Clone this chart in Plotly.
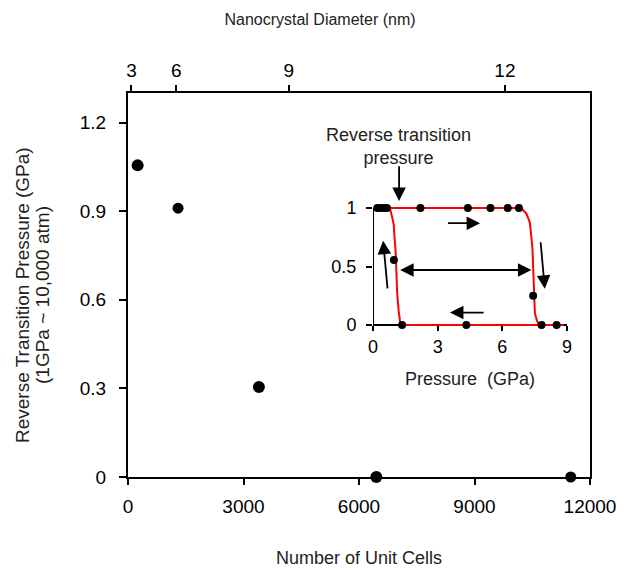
import plotly.graph_objects as go

# ---- main data ----
unit_cells = [250, 1300, 3400, 6450, 11500]
rev_pressure = [1.055, 0.91, 0.305, 0.0, 0.0]
marker_sizes = [12, 11, 12, 12, 11]

x_ticks = [0, 3000, 6000, 9000, 12000]
x_tick_text = ["0", "3000", "6000", "9000", "12000"]
y_ticks = [0, 0.3, 0.6, 0.9, 1.2]
y_tick_text = ["0", "0.3", "0.6", "0.9", "1.2"]

diam_labels = ["3", "6", "9", "12"]
diam_tick_cells = [90, 1255, 4175, 9790]

# ---- inset data ----
ins_pressure = [0.2, 0.35, 0.5, 0.65, 2.2, 4.4, 5.45, 6.25, 6.77, 0.97, 7.43, 1.35, 4.33, 7.82, 8.52]
ins_fraction = [1, 1, 1, 1, 1, 1, 1, 1, 1, 0.555, 0.25, 0, 0, 0, 0]

comp_p = [0.78, 6.88, 7.12, 7.27, 7.35, 7.40, 7.43, 7.48, 7.51, 7.61, 7.71]
comp_f = [1, 1, 0.95, 0.88, 0.75, 0.64, 0.49, 0.26, 0.10, 0.035, 0]
dec_p = [8.83, 1.27, 1.24, 1.19, 1.12, 1.09, 1.05, 1.00, 0.96, 0.88, 0.78]
dec_f = [0, 0, 0.05, 0.12, 0.28, 0.46, 0.63, 0.75, 0.86, 0.93, 1.0]

ins_x_ticks = [0, 3, 6, 9]
ins_y_ticks = [0, 0.5, 1]

FONT = "Liberation Sans, Arial, sans-serif"
OFF = 8  # page body margin
W, H = 638 - OFF, 570 - OFF
ML, MR, MT, MB = 128 - OFF, 48, 93 - OFF, 93
PLOT_L, PLOT_B = 128, 477  # page coords

fig = go.Figure()

fig.add_trace(go.Scatter(
    x=unit_cells, y=rev_pressure, mode="markers",
    marker=dict(color="black", size=marker_sizes, opacity=1,
                line=dict(width=0)),
    cliponaxis=False, showlegend=False, xaxis="x", yaxis="y"))

# invisible companion trace so the top (diameter) axis is drawn
fig.add_trace(go.Scatter(
    x=unit_cells, y=rev_pressure, mode="markers",
    marker=dict(color="rgba(0,0,0,0)", size=1),
    hoverinfo="skip", showlegend=False, xaxis="x2", yaxis="y"))

# inset red curves
fig.add_trace(go.Scatter(
    x=comp_p, y=comp_f, mode="lines", line=dict(color="#ff0000", width=2),
    showlegend=False, xaxis="x3", yaxis="y3"))
fig.add_trace(go.Scatter(
    x=dec_p, y=dec_f, mode="lines", line=dict(color="#ff0000", width=2),
    showlegend=False, xaxis="x3", yaxis="y3"))
fig.add_trace(go.Scatter(
    x=ins_pressure, y=ins_fraction, mode="markers",
    marker=dict(color="black", size=8),
    cliponaxis=False, showlegend=False, xaxis="x3", yaxis="y3"))

# inset geometry (paper fractions)
pw = W - ML - MR
ph = H - MT - MB
ix0, ix1 = (373 - PLOT_L) / pw, (567 - PLOT_L) / pw
pad = 0.04
y_px_per_unit = 116.7
iy_bottom = (PLOT_B - (325 + pad * y_px_per_unit)) / ph
iy_top = (PLOT_B - (208 - pad * y_px_per_unit)) / ph
iy_zero = (PLOT_B - 325) / ph
INS_XR = [0, 9]
INS_YR = [-pad, 1 + pad]


def ins_px(v):
    return ix0 + (v - INS_XR[0]) / (INS_XR[1] - INS_XR[0]) * (ix1 - ix0)


def ins_py(v):
    return iy_bottom + (v - INS_YR[0]) / (INS_YR[1] - INS_YR[0]) * (iy_top - iy_bottom)


axis_common = dict(showgrid=False, zeroline=False, ticks="outside",
                   tickcolor="black", linecolor="black", automargin=False,
                   tickfont=dict(family=FONT, size=19, color="black"))

fig.update_layout(
    width=W, height=H, autosize=False,
    margin=dict(l=ML, r=MR, t=MT, b=MB, autoexpand=False),
    paper_bgcolor="white", plot_bgcolor="white",
    font=dict(family=FONT, color="black"),
    title=dict(text="Nanocrystal Diameter (nm)", xref="paper", x=(320 - PLOT_L) / pw,
               xanchor="center", yref="container", y=1 - (19 - OFF) / H, yanchor="middle",
               font=dict(family=FONT, size=16, color="#222")),
    xaxis=dict(range=[0, 12000], tickvals=x_ticks, ticktext=x_tick_text,
               ticklen=6, tickwidth=2, ticklabelstandoff=5,
               showline=True, linewidth=2, mirror=True,
               title=dict(text="Number of Unit Cells", standoff=36,
                          font=dict(family=FONT, size=18, color="#222")),
               **axis_common),
    xaxis2=dict(range=[0, 12000], overlaying="x", side="top", anchor="y",
                tickvals=diam_tick_cells, ticktext=diam_labels,
                ticklen=6, tickwidth=2, showline=True, linewidth=2,
                **axis_common),
    yaxis=dict(range=[0, 1.3], tickvals=y_ticks, ticktext=y_tick_text,
               ticklen=7, tickwidth=2, showline=True, linewidth=2, mirror=True,
               ticklabelstandoff=9,
               **axis_common),
    xaxis3=dict(domain=[ix0, ix1], range=INS_XR, anchor="free", position=iy_zero,
                tickvals=ins_x_ticks, ticklen=5, tickwidth=2,
                showline=True, linewidth=2, layer="below traces",
                title=dict(text="Pressure\u00a0\u00a0(GPa)", standoff=16,
                           font=dict(family=FONT, size=18, color="#222")),
                showgrid=False, zeroline=False, ticks="outside", automargin=False,
                tickcolor="black", linecolor="black",
                tickfont=dict(family=FONT, size=18, color="black")),
    yaxis3=dict(domain=[iy_bottom, iy_top], range=INS_YR, anchor="x3",
                tickvals=ins_y_ticks, ticktext=["0", "0.5", "1"],
                ticklen=6, tickwidth=2, showline=False, automargin=False,
                ticklabelstandoff=6,
                showgrid=False, zeroline=False, ticks="outside",
                tickcolor="black",
                tickfont=dict(family=FONT, size=18, color="black")),
)

# main y-axis title as two rotated lines
y_title_lines = ["Reverse Transition Pressure (GPa)", "(1GPa ~ 10,000 atm)"]
y_title_xpx = [22, 42]
for txt, xp in zip(y_title_lines, y_title_xpx):
    fig.add_annotation(x=(xp - PLOT_L) / pw, y=(PLOT_B - 295) / ph, xref="paper", yref="paper",
                       text=txt, textangle=-90, showarrow=False,
                       xanchor="center", yanchor="middle",
                       font=dict(family=FONT, size=19, color="#222"))

# inset y axis line from 0 to 1
fig.add_shape(type="line", xref="x3", yref="y3", x0=0, x1=0, y0=0, y1=1,
              line=dict(color="black", width=2), layer="below")

arrow_kw = dict(xref="paper", yref="paper", axref="pixel", ayref="pixel", showarrow=True,
                arrowcolor="black", arrowhead=2, arrowsize=1.5, arrowwidth=1.8, text="")
arrows = [
    # (tip_x, tip_y, tail_x, tail_y, double) in inset data units
    (1.21, 1.06, 1.21, 1.37, False),
    (4.97, 0.87, 3.41, 0.87, False),
    (7.97, 0.31, 7.77, 0.72, False),
    (3.57, 0.106, 5.2, 0.106, False),
    (0.47, 0.72, 0.68, 0.30, False),
    (7.35, 0.47, 1.19, 0.47, True),
]
for tx, ty, sx, sy, dbl in arrows:
    kw = dict(arrow_kw)
    if dbl:
        kw["arrowside"] = "end+start"
    dx = (ins_px(sx) - ins_px(tx)) * pw
    dy = -(ins_py(sy) - ins_py(ty)) * ph
    fig.add_annotation(x=ins_px(tx), y=ins_py(ty), ax=dx, ay=dy, **kw)

fig.add_annotation(x=ins_px(1.16), y=ins_py(1.53), xref="paper", yref="paper",
                   xanchor="center", yanchor="middle",
                   showarrow=False, text="Reverse transition<br>pressure", align="center",
                   font=dict(family=FONT, size=18, color="#222"))

fig.write_html("out.html")
